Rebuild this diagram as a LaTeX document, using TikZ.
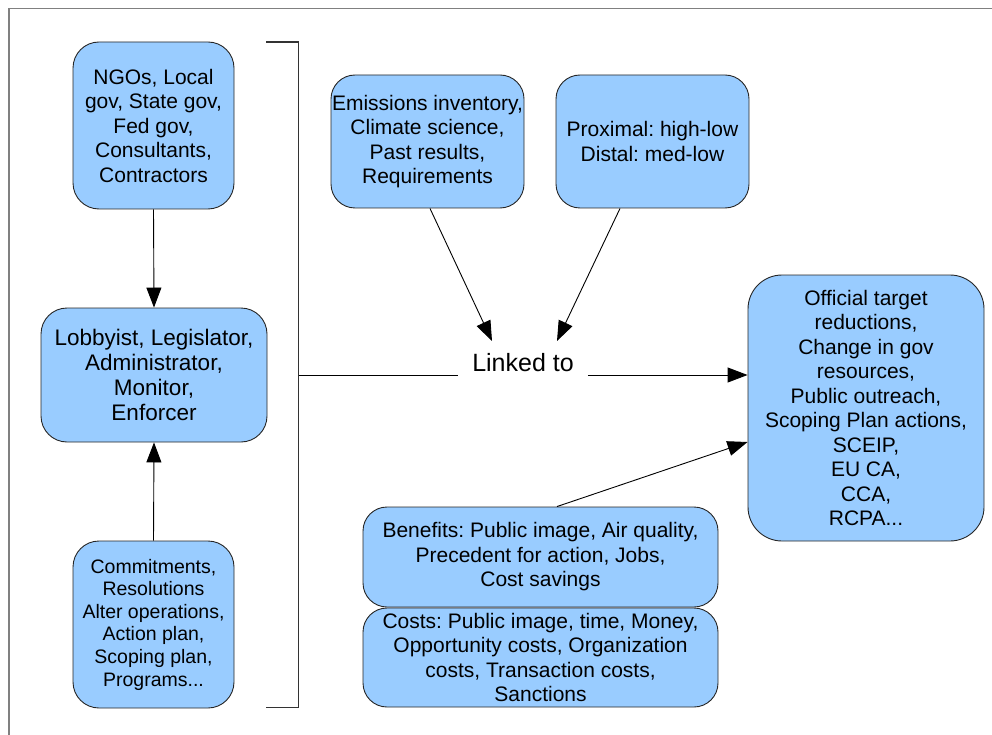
\documentclass[tikz,border=0pt]{standalone}
\usepackage{fontspec}
\setmainfont{Liberation Sans}
\frenchspacing
\usetikzlibrary{arrows.meta,calc}
\definecolor{boxblue}{RGB}{153,204,255}
\definecolor{framegray}{RGB}{128,128,128}
\tikzset{
  box/.style={draw=black!85, line width=0.9pt, fill=boxblue, rounded corners=26pt,
    align=center, inner sep=0pt, text=black},
  txt/.style={font=\fontsize{21}{24.5}\selectfont},
  conn/.style={draw=black, line width=0.9pt, -{Triangle[length=20pt,width=15pt]}},
  plainline/.style={draw=black!80, line width=1.2pt},
}
\begin{document}
\begin{tikzpicture}[x=1pt,y=-1pt]
\useasboundingbox (0,0) rectangle (992,735);

% page frame
\draw[framegray, line width=1.5pt] (9,735) -- (9,8.5) -- (992,8.5);

% actors column
\node[box, txt, minimum width=161, minimum height=167] (ngo) at (153.5,125.5)
  {NGOs, Local\\gov, State gov,\\Fed gov,\\Consultants,\\Contractors};
\node[box, minimum width=226, minimum height=134,
      font=\fontsize{22.5}{25}\selectfont] (lob) at (154,375)
  {Lobbyist, Legislator,\\Administrator,\\Monitor,\\Enforcer};
\node[box, minimum width=161, minimum height=167,
      font=\fontsize{19.5}{22.6}\selectfont] (com) at (153.5,624.5)
  {Commitments,\\Resolutions\\Alter operations,\\Action plan,\\Scoping plan,\\Programs...};

% inputs
\node[box, txt, rounded corners=24pt, minimum width=193, minimum height=133] (emi) at (427.5,141.5)
  {Emissions inventory,\\Climate science,\\Past results,\\Requirements};
\node[box, txt, rounded corners=24pt, minimum width=193, minimum height=133] (prox) at (652.5,141.5)
  {Proximal: high-low\\Distal: med-low};

% outcomes
\node[box, txt, rounded corners=34pt, minimum width=236, minimum height=266] (out) at (866,408)
  {Official target\\reductions,\\Change in gov\\resources,\\Public outreach,\\Scoping Plan actions,\\SCEIP,\\EU CA,\\CCA,\\RCPA...};

% benefits and costs
\node[box, txt, rounded corners=24pt, minimum width=355, minimum height=100] (ben) at (540.5,557)
  {Benefits: Public image, Air quality,\\Precedent for action, Jobs,\\Cost savings};
\node[box, txt, rounded corners=24pt, minimum width=355, minimum height=99] (cost) at (540.5,657.5)
  {Costs: Public image, time, Money,\\Opportunity costs, Organization\\costs, Transaction costs,\\Sanctions};

% central label
\node[inner xsep=14pt, inner ysep=4pt, font=\fontsize{25}{28}\selectfont] (link) at (523,363) {Linked to};

% bracket grouping the actor column
\coordinate (bt) at (266,42);
\coordinate (bb) at (266,707.7);
\coordinate (bm) at (298.5,375);
\draw[plainline] (bt) -| (bm) |- (bb);

% connectors
\draw[conn] (ngo.south) -- (lob.north);
\draw[conn] (com.north) -- (lob.south);
\draw[draw=black, line width=0.9pt] (bm) -- (bm -| link.west);
\draw[conn] (link.east |- bm) -- (bm -| out.west);
\coordinate (t1) at (492,341);
\coordinate (t2) at (557,341);
\draw[conn] ($(emi.south)+(2.5,0)$) -- (t1);
\draw[conn] ($(prox.south)+(-32.5,0)$) -- (t2);
\draw[conn] ($(ben.north)+(16.5,0)$) -- ($(out.west)+(0,34)$);
\end{tikzpicture}
\end{document}
